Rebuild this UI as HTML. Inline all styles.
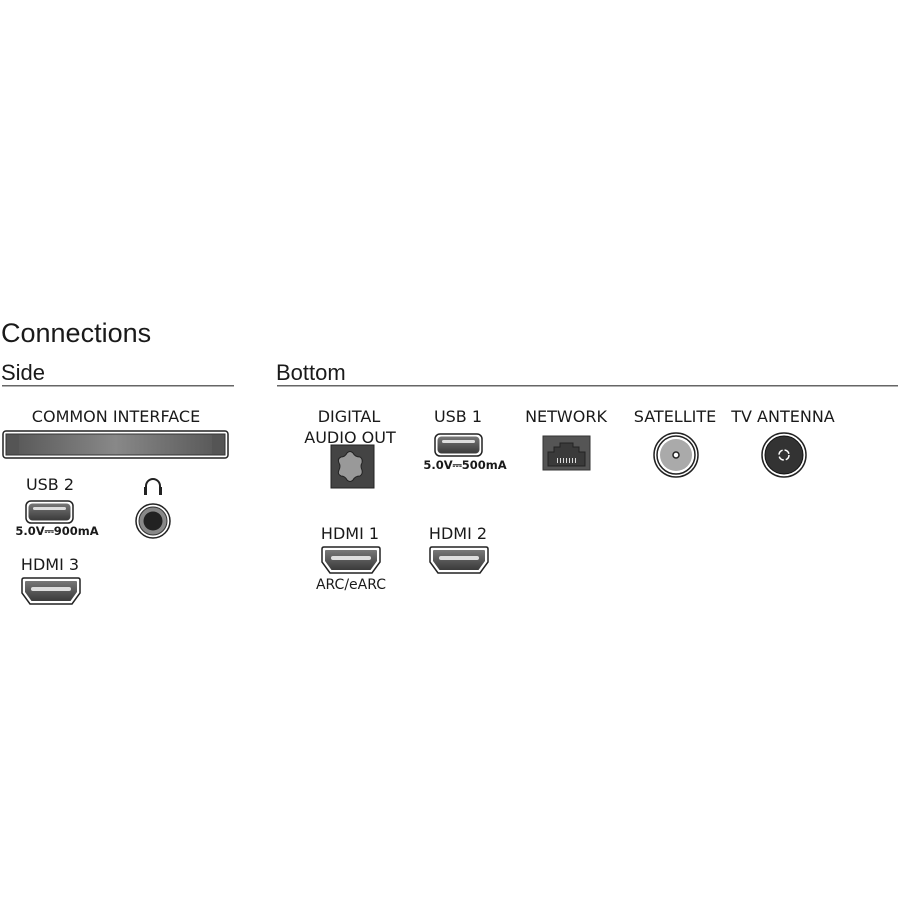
<!DOCTYPE html>
<html><head><meta charset="utf-8"><style>
html,body{margin:0;padding:0;background:#fff;}
svg{display:block}
text{font-family:"DejaVu Sans","Liberation Sans",sans-serif;fill:#1a1a1a}
</style></head><body>
<svg width="900" height="900" viewBox="0 0 900 900" xmlns="http://www.w3.org/2000/svg">
<defs>
<linearGradient id="g1" x1="0" y1="0" x2="0" y2="1"><stop offset="0" stop-color="#777"/><stop offset="1" stop-color="#3a3a3a"/></linearGradient>
<linearGradient id="ci" x1="0" y1="0" x2="1" y2="0"><stop offset="0" stop-color="#555"/><stop offset="0.5" stop-color="#888"/><stop offset="1" stop-color="#555"/></linearGradient>
<g id="usb">
<rect x="0" y="0" width="47" height="22" rx="5" fill="#fff" stroke="#222" stroke-width="1.5"/>
<rect x="2.5" y="2.5" width="42" height="17" rx="4" fill="url(#g1)"/>
<rect x="7" y="6" width="33" height="3" rx="1.5" fill="#ddd"/>
</g>
<g id="hdmi">
<path d="M1,2 Q1,0 3,0 H57 Q59,0 59,2 V15 L51,26 H9 L1,15 Z" fill="#fff" stroke="#222" stroke-width="1.5"/>
<path d="M4,4 Q4,3 5,3 H55 Q56,3 56,4 V14 L49.5,23 H10.5 L4,14 Z" fill="url(#g1)"/>
<rect x="10" y="9" width="40" height="4" rx="2" fill="#ddd"/>
</g>
</defs>

<text x="1" y="342" font-size="27" font-weight="300" style="font-family:'Liberation Sans',sans-serif" fill="#222">Connections</text>
<text x="1" y="380" font-size="22" style="font-family:'Liberation Sans',sans-serif">Side</text>
<text x="276" y="380" font-size="22" style="font-family:'Liberation Sans',sans-serif">Bottom</text>
<rect x="2" y="385" width="232" height="1.5" fill="#666"/>
<rect x="277" y="385" width="621" height="1.5" fill="#666"/>

<text x="116" y="422" font-size="16" text-anchor="middle">COMMON INTERFACE</text>
<rect x="3" y="431" width="225" height="27" rx="3" fill="#fff" stroke="#222" stroke-width="1.5"/>
<rect x="6" y="434" width="219" height="21" fill="url(#ci)" stroke="#333"/>
<rect x="7" y="435" width="12" height="19" fill="#555"/>
<rect x="212" y="435" width="12" height="19" fill="#555"/>

<text x="50" y="490" font-size="16" text-anchor="middle">USB 2</text>
<use href="#usb" x="26" y="501"/>
<text x="57" y="535" font-size="11.5" font-weight="bold" text-anchor="middle">5.0V⎓900mA</text>

<path d="M146,493 V486 A7,7 0 0 1 160,486 V493" fill="none" stroke="#222" stroke-width="2"/>
<rect x="144" y="487" width="3" height="8" fill="#222"/><rect x="159" y="487" width="3" height="8" fill="#222"/>
<circle cx="153" cy="521" r="17" fill="#fff" stroke="#222" stroke-width="1.5"/>
<circle cx="153" cy="521" r="14" fill="#888" stroke="#333"/>
<circle cx="153" cy="521" r="9.5" fill="#222"/>

<text x="50" y="570" font-size="16" text-anchor="middle">HDMI 3</text>
<use href="#hdmi" x="21" y="578"/>

<text x="349" y="422" font-size="16" text-anchor="middle">DIGITAL</text>
<text x="350" y="443" font-size="16" text-anchor="middle">AUDIO OUT</text>
<rect x="331" y="445" width="43" height="43" fill="#444" stroke="#222"/>
<path d="M341,457 Q345,457 347,453 Q350,450 353,453 Q355,457 360,457 Q363,459 362,463 Q360,466 362,470 Q363,474 360,476 Q355,476 353,480 Q350,483 347,480 Q345,476 341,476 Q337,474 339,470 Q341,466 339,463 Q337,459 341,457 Z" fill="#999" stroke="#222"/>

<text x="458" y="422" font-size="16" text-anchor="middle">USB 1</text>
<use href="#usb" x="435" y="434"/>
<text x="465" y="469" font-size="11.5" font-weight="bold" text-anchor="middle">5.0V⎓500mA</text>

<text x="566" y="422" font-size="16" text-anchor="middle">NETWORK</text>
<rect x="543" y="436" width="47" height="34" fill="#555" stroke="#333"/>
<path d="M548,466 V452 H554 V447 H560 V443 H573 V447 H579 V452 H585 V466 Z" fill="#3a3a3a" stroke="#222"/>
<g fill="#ddd"><rect x="557" y="458" width="1" height="5"/><rect x="560" y="458" width="1" height="5"/><rect x="563" y="458" width="1" height="5"/><rect x="566" y="458" width="1" height="5"/><rect x="569" y="458" width="1" height="5"/><rect x="572" y="458" width="1" height="5"/><rect x="575" y="458" width="1" height="5"/></g>

<text x="675" y="422" font-size="16" text-anchor="middle">SATELLITE</text>
<circle cx="676" cy="455" r="22" fill="#fff" stroke="#222" stroke-width="1.5"/>
<circle cx="676" cy="455" r="19" fill="#fff" stroke="#222" stroke-width="1.5"/>
<circle cx="676" cy="455" r="16" fill="#aaa"/>
<circle cx="676" cy="455" r="3" fill="#fff" stroke="#222" stroke-width="1.5"/>

<text x="783" y="422" font-size="16" text-anchor="middle">TV ANTENNA</text>
<circle cx="784" cy="455" r="22" fill="#fff" stroke="#222" stroke-width="1.5"/>
<circle cx="784" cy="455" r="19" fill="#333" stroke="#111"/>
<circle cx="784" cy="455" r="5" fill="none" stroke="#fff" stroke-width="1.5" stroke-dasharray="6 2"/>

<text x="350" y="539" font-size="16" text-anchor="middle">HDMI 1</text>
<use href="#hdmi" x="321" y="547"/>
<text x="351" y="589" font-size="14" text-anchor="middle">ARC/eARC</text>

<text x="458" y="539" font-size="16" text-anchor="middle">HDMI 2</text>
<use href="#hdmi" x="429" y="547"/>
</svg>
</body></html>
